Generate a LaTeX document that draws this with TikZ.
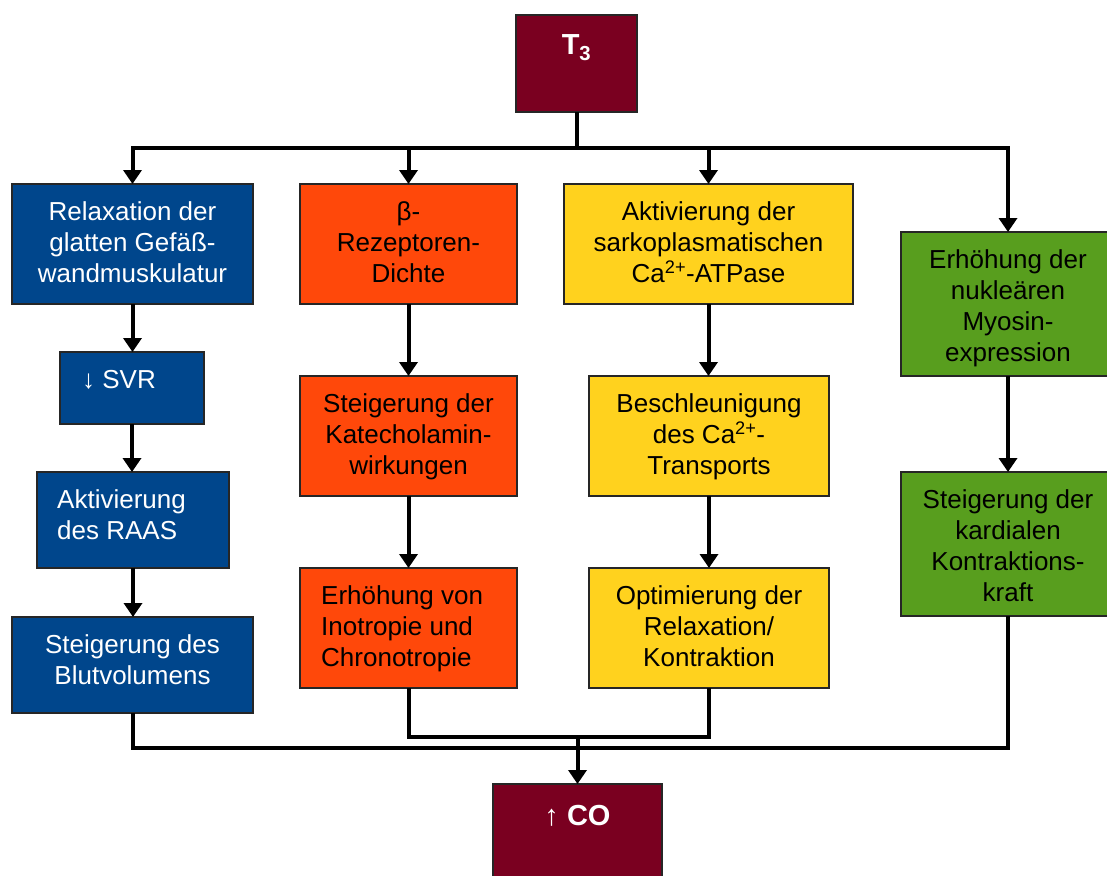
\documentclass[tikz,border=0pt]{standalone}
\usepackage{fontspec}
\setmainfont{Liberation Sans}
\usetikzlibrary{arrows.meta}
\definecolor{boxmaroon}{HTML}{7A0020}
\definecolor{boxblue}{HTML}{00468C}
\definecolor{boxorange}{HTML}{FF480A}
\definecolor{boxyellow}{HTML}{FFD21E}
\definecolor{boxgreen}{HTML}{589E1E}
% fixes the height of the first text line, so all boxes start their text alike
\newcommand\firstln{\rule{0pt}{22pt}}

\begin{document}
\begin{tikzpicture}[x=1pt,y=-1pt,
  box/.style={draw=black!85, line width=1.3pt, anchor=north west,
    inner sep=0pt, outer sep=0pt},
  txt/.style={inner sep=0pt, font=\fontsize{26}{31}\selectfont,
    align=center, anchor=north},
  ltxt/.style={txt, align=left, anchor=north west},
  headtxt/.style={inner sep=0pt, anchor=base, text=white,
    font=\fontsize{29}{34}\selectfont\bfseries},
  wire/.style={line width=4pt},
  arr/.style={wire, -{Triangle[length=14pt,width=18pt]}},
]
\clip (0,0) rectangle (1107,875);

% source and result
\node[box, fill=boxmaroon, minimum width=121pt, minimum height=97pt] (t3) at (516,15) {};
\node[headtxt] (t3t) at ([yshift=-40pt]t3.north) {T\textsubscript{3}};
\node[box, fill=boxmaroon, minimum width=169pt, minimum height=97pt] (co) at (493,784) {};
\node[headtxt] (cot) at ([yshift=-41pt]co.north) {\mdseries↑\bfseries\ CO};

% vascular column
\node[box, fill=boxblue, minimum width=241pt, minimum height=120pt] (b1) at (12,184) {};
\node[txt, text=white] (b1t) at ([yshift=-14pt]b1.north)
  {\firstln Relaxation der\\glatten Gefäß-\\wandmuskulatur};
\node[box, fill=boxblue, minimum width=144pt, minimum height=72pt] (b2) at (60,352) {};
\node[ltxt, text=white] (b2t) at ([xshift=22pt,yshift=-14pt]b2.north west)
  {\firstln ↓ SVR};
\node[box, fill=boxblue, minimum width=192pt, minimum height=96pt] (b3) at (37,472) {};
\node[ltxt, text=white] (b3t) at ([xshift=20pt,yshift=-14pt]b3.north west)
  {\firstln Aktivierung\\des RAAS};
\node[box, fill=boxblue, minimum width=241pt, minimum height=96pt] (b4) at (12,617) {};
\node[txt, text=white] (b4t) at ([yshift=-14pt]b4.north)
  {\firstln Steigerung des\\Blutvolumens};

% receptor column
\node[box, fill=boxorange, minimum width=217pt, minimum height=120pt] (o1) at (300,184) {};
\node[txt] (o1t) at ([yshift=-14pt]o1.north)
  {\firstln β-\\Rezeptoren-\\Dichte};
\node[box, fill=boxorange, minimum width=217pt, minimum height=120pt] (o2) at (300,376) {};
\node[txt] (o2t) at ([yshift=-14pt]o2.north)
  {\firstln Steigerung der\\Katecholamin-\\wirkungen};
\node[box, fill=boxorange, minimum width=217pt, minimum height=120pt] (o3) at (300,568) {};
\node[ltxt] (o3t) at ([xshift=21pt,yshift=-14pt]o3.north west)
  {\firstln Erhöhung von\\Inotropie und\\Chronotropie};

% calcium column
\node[box, fill=boxyellow, minimum width=289pt, minimum height=120pt] (y1) at (564,184) {};
\node[txt] (y1t) at ([yshift=-14pt]y1.north)
  {\firstln Aktivierung der\\sarkoplasmatischen\\Ca\textsuperscript{2+}-ATPase};
\node[box, fill=boxyellow, minimum width=240pt, minimum height=120pt] (y2) at (589,376) {};
\node[txt] (y2t) at ([yshift=-14pt]y2.north)
  {\firstln Beschleunigung\\des Ca\textsuperscript{2+}-\\Transports};
\node[box, fill=boxyellow, minimum width=240pt, minimum height=120pt] (y3) at (589,568) {};
\node[txt] (y3t) at ([yshift=-14pt]y3.north)
  {\firstln Optimierung der\\Relaxation/\\Kontraktion};

% myosin column
\node[box, fill=boxgreen, minimum width=214pt, minimum height=144pt] (g1) at (901,232) {};
\node[txt] (g1t) at ([yshift=-14pt]g1.north)
  {\firstln Erhöhung der\\nukleären\\Myosin-\\expression};
\node[box, fill=boxgreen, minimum width=214pt, minimum height=144pt] (g2) at (901,472) {};
\node[txt] (g2t) at ([yshift=-14pt]g2.north)
  {\firstln Steigerung der\\kardialen\\Kontraktions-\\kraft};

% distribution from the source
\coordinate (split) at (576.5,148);
\draw[wire] (t3.south) -- (split);
\draw[arr] (split) -| (b1.north);
\draw[arr] (split) -| (o1.north);
\draw[arr] (split) -| (y1.north);
\draw[arr] (split) -| (g1.north);

% steps within the columns
\draw[arr] (b1.south) -- (b1.south |- b2.north);
\draw[arr] (b2.south) -- (b2.south |- b3.north);
\draw[arr] (b3.south) -- (b3.south |- b4.north);
\draw[arr] (o1.south) -- (o2.north);
\draw[arr] (o2.south) -- (o3.north);
\draw[arr] (y1.south) -- (y1.south |- y2.north);
\draw[arr] (y2.south) -- (y3.north);
\draw[arr] (g1.south) -- (g2.north);

% collection into the result
\draw[wire] (b4.south) -- ++(0,35) -| (g2.south);
\draw[wire] (o3.south) -- ++(0,49) -| (y3.south);
\coordinate (join) at (577.5,737);
\draw[arr] (join) -- (co.north);
\end{tikzpicture}
\end{document}
